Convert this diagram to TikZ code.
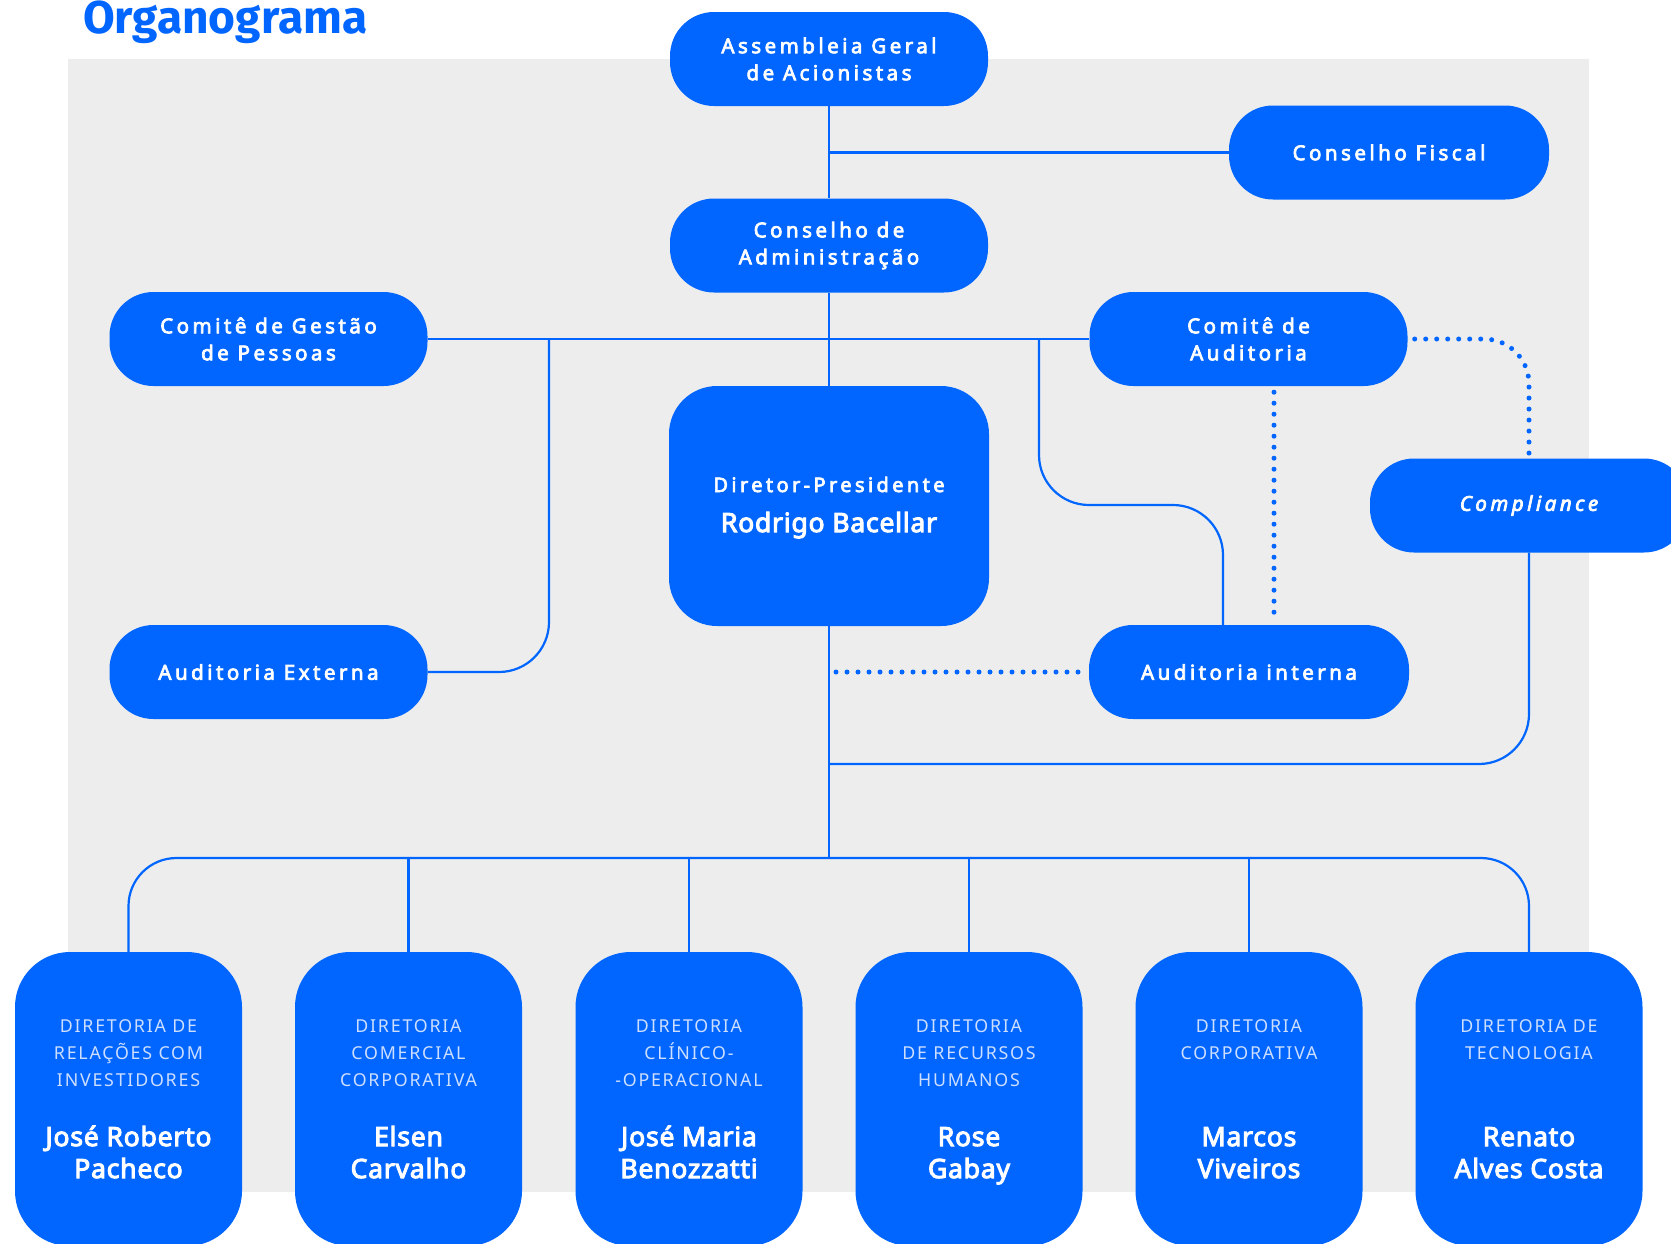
\documentclass[tikz,border=0pt]{standalone}
\usepackage{fontspec}
\setmainfont{Noto Sans}[AutoFakeBold=3.5]
\newfontfamily\lblfont{Noto Sans}[LetterSpace=17,AutoFakeBold=3.5]
\newfontfamily\compfont{Noto Sans}[LetterSpace=17,ItalicFeatures={FakeBold=3.5}]
\newfontfamily\namefont{Noto Sans}[LetterSpace=3,AutoFakeBold=3.8]
\newfontfamily\capfont{Noto Sans}[LetterSpace=10]
\newfontfamily\titlefont{Fira Sans}
\definecolor{blu}{RGB}{0,102,255}
\definecolor{panel}{RGB}{237,237,237}
\definecolor{capc}{RGB}{205,222,255}
\newcommand\stk[1]{\begin{tabular}[t]{@{}c@{}}#1\end{tabular}}
\tikzset{
  pill/.style={fill=blu, rounded corners=44pt, minimum width=318pt, minimum height=94pt,
    inner sep=0pt, text=white, align=center, font=\lblfont\bfseries\fontsize{20.5}{27}\selectfont},
  bigbox/.style={fill=blu, rounded corners=48pt, minimum width=320pt, minimum height=240pt, inner sep=0pt},
  dbox/.style={fill=blu, rounded corners=55pt, minimum width=227pt, minimum height=294pt, inner sep=0pt},
  conn/.style={draw=blu, line width=2.2pt},
  dots/.style={draw=blu, line width=5pt, line cap=round, dash pattern=on 0pt off 11pt},
  captxt/.style={anchor=base, text=capc, inner sep=0pt, font=\capfont\fontsize{17.8}{27}\selectfont},
  nametxt/.style={anchor=base, text=white, inner sep=0pt, font=\namefont\bfseries\fontsize{26.5}{32}\selectfont},
}
\begin{document}
\begin{tikzpicture}[x=1pt,y=-1pt]
\useasboundingbox (0,0) rectangle (1671,1243);
\fill[white] (0,0) rectangle (1671,1243);
\fill[panel] (68,59) rectangle (1589,1192);

\node[anchor=base west, text=blu, inner sep=0pt, font=\titlefont\bfseries\fontsize{46}{50}\selectfont] (title) at (83,33) {Organograma};

% main nodes
\node[pill] (ag) at (829,59) {Assembleia Geral\\de Acionistas};
\node[pill, minimum width=320pt] (cf) at (1389,152.5) {Conselho Fiscal};
\node[pill] (ca) at (829,245.5) {Conselho de\\Administração};
\node[pill] (cgp) at (268.5,339) {Comitê de Gestão\\de Pessoas};
\node[pill] (cau) at (1248.5,339) {Comitê de\\Auditoria};
\node[pill, font=\compfont\itshape\fontsize{20.5}{27}\selectfont] (comp) at (1529,505.5) {Compliance};
\node[pill] (aext) at (268.5,672) {Auditoria Externa};
\node[pill, minimum width=320pt] (aint) at (1249,672) {Auditoria interna};
\node[bigbox] (dp) at (829,506) {};
\node[anchor=base, text=white, inner sep=0pt, font=\lblfont\bfseries\fontsize{20}{27}\selectfont] (dpt) at (829,492) {Diretor-Presidente};
\node[anchor=base, text=white, inner sep=0pt, font=\namefont\bfseries\fontsize{26.5}{32}\selectfont] (dpn) at (829,532) {Rodrigo Bacellar};

% bottom boxes
\node[dbox] (b1) at (128.5,1099) {};
\node[dbox] (b2) at (408.5,1099) {};
\node[dbox] (b3) at (689,1099) {};
\node[dbox] (b4) at (969,1099) {};
\node[dbox] (b5) at (1249,1099) {};
\node[dbox] (b6) at (1529,1099) {};

\node[captxt] (c1) at (128.5,1032) {\stk{DIRETORIA DE\\RELAÇÕES COM\\INVESTIDORES}};
\node[captxt] (c2) at (408.5,1032) {\stk{DIRETORIA\\COMERCIAL\\CORPORATIVA}};
\node[captxt] (c3) at (689,1032) {\stk{DIRETORIA\\CLÍNICO-\\-OPERACIONAL}};
\node[captxt] (c4) at (969,1032) {\stk{DIRETORIA\\DE RECURSOS\\HUMANOS}};
\node[captxt] (c5) at (1249,1032) {\stk{DIRETORIA\\CORPORATIVA}};
\node[captxt] (c6) at (1529,1032) {\stk{DIRETORIA DE\\TECNOLOGIA}};

\node[nametxt] (n1) at (128.5,1146) {\stk{José Roberto\\Pacheco}};
\node[nametxt] (n2) at (408.5,1146) {\stk{Elsen\\Carvalho}};
\node[nametxt] (n3) at (689,1146) {\stk{José Maria\\Benozzatti}};
\node[nametxt] (n4) at (969,1146) {\stk{Rose\\Gabay}};
\node[nametxt] (n5) at (1249,1146) {\stk{Marcos\\Viveiros}};
\node[nametxt] (n6) at (1529,1146) {\stk{Renato\\Alves Costa}};

% junction coordinates
\coordinate (cfj) at (829,152.5);
\coordinate (j1) at (549,339);
\coordinate (j2) at (1039,339);
\coordinate (bend2) at (1039,505);
\coordinate (aintL) at (1223,626);
\coordinate (dpj) at (829,672);
\coordinate (cj) at (829,764);
\coordinate (busc) at (829,858);

% connectors
\draw[conn] (ag.south) -- (ca.north);
\draw[conn] (cfj) -- (cf.west);
\draw[conn] (ca.south) -- (dp.north);
\draw[conn] (cgp.east) -- (cau.west);
\draw[conn, rounded corners=50pt] (j1) |- (aext.east);
\draw[conn, rounded corners=50pt] (j2) -- (bend2) -| (aintL);
\draw[conn] (dp.south) -- (busc);
\draw[conn, rounded corners=50pt] (comp.south) |- (cj);
\draw[conn, rounded corners=48pt] (b1.north) |- (busc);
\draw[conn, rounded corners=48pt] (b6.north) |- (busc);
\foreach \b in {b2,b3,b4,b5} \draw[conn] (\b.north) -- (\b.north |- busc);

\draw[dots, shorten <=6pt, shorten >=4pt] ([xshift=25.5pt]cau.south) -- ([xshift=25pt]aint.north);
\draw[dots, shorten <=7pt, shorten >=3pt, rounded corners=45pt] (cau.east) -| (comp.north);
\draw[dots, shorten <=7pt, shorten >=5pt] (dpj) -- (aint.west);
\end{tikzpicture}
\end{document}
